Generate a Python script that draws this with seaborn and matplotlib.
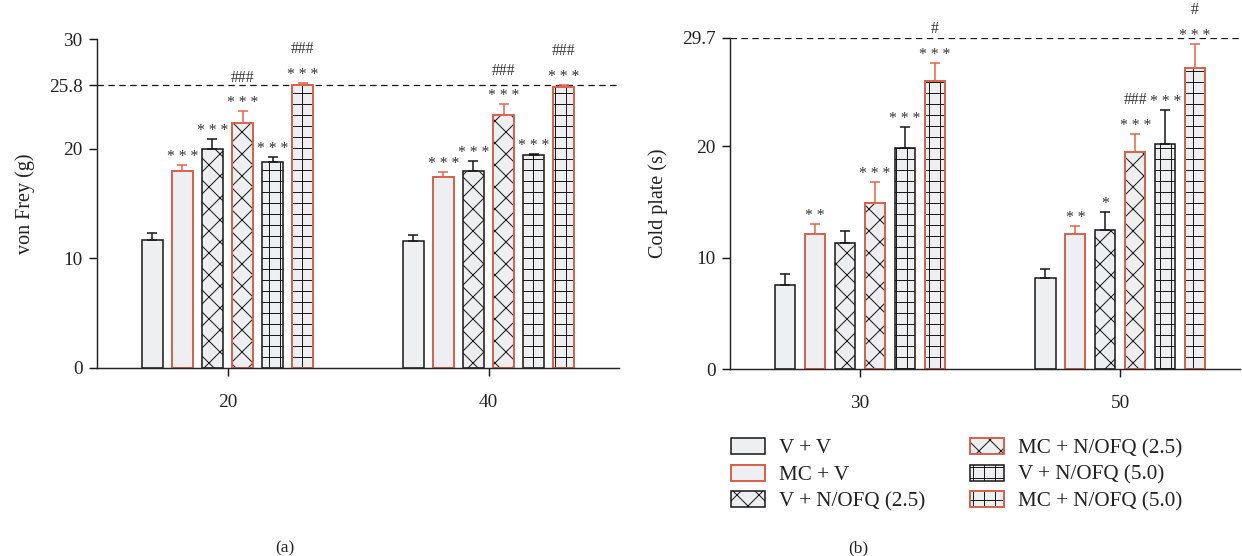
import numpy as np
import pandas as pd
import matplotlib.pyplot as plt
import seaborn as sns
from matplotlib.patches import Patch, Rectangle

groups = ["V + V", "MC + V", "V + N/OFQ (2.5)", "MC + N/OFQ (2.5)",
          "V + N/OFQ (5.0)", "MC + N/OFQ (5.0)"]

# (a) von Frey (g)
vf_times = ["20", "40"]
vf_mean_20 = [11.7, 17.95, 20.0, 22.35, 18.8, 25.85]
vf_sem_20 = [0.6, 0.6, 0.9, 1.05, 0.4, 0.15]
vf_mean_40 = [11.6, 17.4, 18.0, 23.1, 19.4, 25.6]
vf_sem_40 = [0.55, 0.5, 0.9, 0.95, 0.15, 0.25]
vf_marks_20 = ["", "* * *", "* * *", "###\n* * *", "* * *", "###\n* * *"]
vf_marks_40 = ["", "* * *", "* * *", "###\n* * *", "* * *", "###\n* * *"]
vf_cutoff = 25.8
vf_yticks = [0, 10, 20, 25.8, 30]
vf_yticklabels = ["0", "10", "20", "25.8", "30"]

# (b) cold plate (s)
cp_times = ["30", "50"]
cp_mean_30 = [7.57, 12.1, 11.3, 14.9, 19.85, 25.85]
cp_sem_30 = [0.95, 0.95, 1.1, 1.85, 1.85, 1.6]
cp_mean_50 = [8.2, 12.1, 12.5, 19.5, 20.2, 27.0]
cp_sem_50 = [0.8, 0.75, 1.6, 1.6, 3.0, 2.2]
cp_marks_30 = ["", "* *", "", "* * *", "* * *", "#\n* * *"]
cp_marks_50 = ["", "* *", "*", "###\n* * *", "* * *", "#\n* * *"]
cp_cutoff = 29.7
cp_yticks = [0, 10, 20, 29.7]
cp_yticklabels = ["0", "10", "20", "29.7"]

FILL = "#EEEFF0"
BLACK = "#1a1a1a"
ORANGE = "#E5654E"
hatches = ["", "", "x", "x", "+", "+"]
edges = [BLACK if g.startswith("V") else ORANGE for g in groups]

DPI = 66
sns.set_style("ticks")
plt.rcParams['font.family'] = ['Liberation Serif', 'DejaVu Serif']
plt.rcParams['hatch.linewidth'] = 1.1
plt.rcParams['hatch.color'] = BLACK
plt.rcParams['axes.linewidth'] = 1.6

fig = plt.figure(figsize=(1242 / DPI, 556 / DPI), dpi=DPI)
ax1 = fig.add_axes([97 / 1242, 1 - 368 / 556, 522 / 1242, 329 / 556])
ax2 = fig.add_axes([730 / 1242, 1 - 369 / 556, 510 / 1242, 331 / 556])

LW = 1.7
TXT = "#222222"


def draw_panel(ax, times, means, sems, marks, cutoff, yticks, yticklabels,
               ylabel, ymax, xmax, label_x):
    rows = []
    for t, m in zip(times, means):
        for g, v in zip(groups, m):
            rows.append({"time": t, "group": g, "value": v})
    df = pd.DataFrame(rows)
    sns.barplot(data=df, x="time", y="value", hue="group", hue_order=groups,
                order=times, palette={g: FILL for g in groups}, saturation=1,
                errorbar=None, width=0.69, gap=0.33, edgecolor=BLACK,
                linewidth=LW, legend=False, ax=ax)

    bar_sets = list(ax.containers)
    for gi, cont in enumerate(bar_sets):
        bars = sorted(cont.patches, key=lambda p: p.get_x())
        for ti, bar in enumerate(bars):
            bar.set_hatch(hatches[gi])
            if edges[gi] == ORANGE:
                # orange outline on top, hatch stays black
                ax.add_patch(Rectangle(bar.get_xy(), bar.get_width(), bar.get_height(),
                                       fill=False, edgecolor=ORANGE, lw=LW + 0.3,
                                       zorder=bar.zorder + 0.1))
            x = bar.get_x() + bar.get_width() / 2
            y = bar.get_height()
            e = sems[ti][gi]
            ax.errorbar(x, y, yerr=[[0], [e]], fmt="none", ecolor=edges[gi],
                        elinewidth=LW, capsize=5.5, capthick=LW, zorder=1)
            if marks[ti][gi]:
                ax.annotate(marks[ti][gi], (x, y + e), xytext=(0, 0),
                            textcoords="offset points", ha="center", va="bottom",
                            fontsize=17, linespacing=1.8, color="#333333",
                            annotation_clip=False)

    ax.axhline(cutoff, color=BLACK, lw=1.4, ls=(0, (5, 3.5)), zorder=0.5)
    ax.set_ylim(0, ymax)
    ax.set_xlim(-0.5, xmax)
    ax.set_yticks(yticks)
    ax.set_yticklabels(yticklabels)
    ax.set_xlabel("")
    ax.set_ylabel(ylabel, fontsize=22, color=TXT)
    ax.yaxis.set_label_coords(label_x, 0.5)
    ax.tick_params(axis="both", labelsize=21, length=8.5, width=1.6, color=BLACK,
                   labelcolor=TXT)
    ax.tick_params(axis="y", pad=7)
    ax.tick_params(axis="x", pad=20)
    sns.despine(ax=ax)


draw_panel(ax1, vf_times, [vf_mean_20, vf_mean_40], [vf_sem_20, vf_sem_40],
           [vf_marks_20, vf_marks_40], vf_cutoff, vf_yticks, vf_yticklabels,
           "von Frey (g)", 30, 1.5, (35 - 97) / 522)
draw_panel(ax2, cp_times, [cp_mean_30, cp_mean_50], [cp_sem_30, cp_sem_50],
           [cp_marks_30, cp_marks_50], cp_cutoff, cp_yticks, cp_yticklabels,
           "Cold plate (s)", 29.7, 1.46, (668 - 730) / 510)

# legend with black hatch inside orange outlines
handles = []
for g, h, ec in zip(groups, hatches, edges):
    if ec == ORANGE:
        handles.append((Patch(facecolor=FILL, edgecolor=BLACK, hatch=h, lw=LW),
                        Patch(fill=False, edgecolor=ORANGE, lw=LW + 0.3)))
    else:
        handles.append(Patch(facecolor=FILL, edgecolor=BLACK, hatch=h, lw=LW))
fig.legend(handles, groups, loc="upper left", bbox_to_anchor=(731 / 1242, 1 - 438 / 556),
           ncol=2, frameon=False, fontsize=23, handlelength=1.62, handleheight=0.8,
           handletextpad=0.67, columnspacing=2.1, labelspacing=0.29, borderpad=0,
           borderaxespad=0, labelcolor=TXT)

fig.text(285 / 1242, 1 - 548 / 556, "(a)", ha="center", va="center", fontsize=19, color=TXT)
fig.text(858 / 1242, 1 - 548 / 556, "(b)", ha="center", va="center", fontsize=19, color=TXT)

fig.savefig("out.png", dpi=DPI)
